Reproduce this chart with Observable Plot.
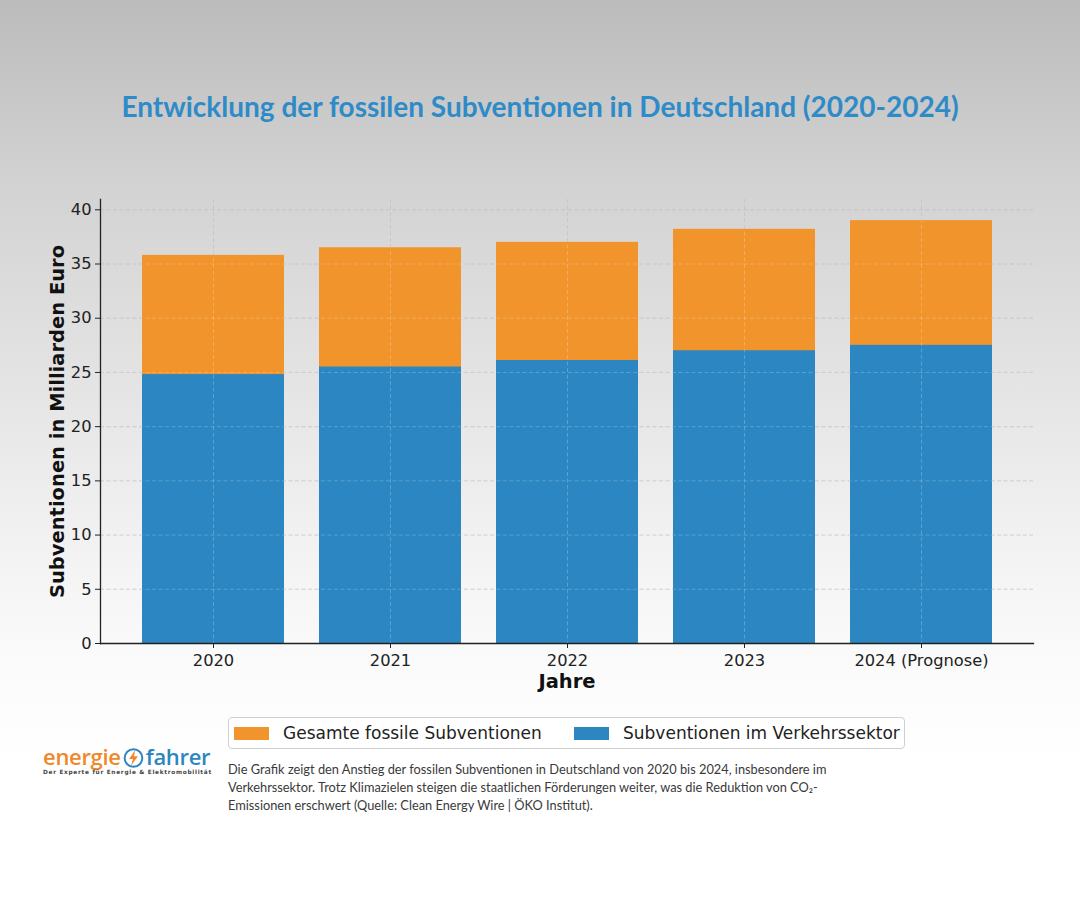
<!DOCTYPE html>
<html>
<head>
<meta charset="utf-8">
<script src="https://cdn.jsdelivr.net/npm/d3@7"></script>
<script src="https://cdn.jsdelivr.net/npm/@observablehq/plot@0.6"></script>
<style>
  html, body { margin: 0; padding: 0; }
  body { width: 1080px; height: 900px; position: relative; overflow: hidden;
    background: linear-gradient(to bottom, #bcbcbc 0%, #d2d2d2 20%, #e2e2e2 40%, #eeeeee 55%, #fafafa 72%, #ffffff 85%); }
  #title { position: absolute; top: 89px; left: 0; width: 1080px; text-align: center;
    font-family: Lato, sans-serif; font-weight: bold; font-size: 28px; color: #2f8bc8; }
  #chart { position: absolute; top: 0; left: 0; }
  #legend { position: absolute; left: 228px; top: 717px; width: 675px; height: 30px;
    border: 1px solid #d0d0d0; border-radius: 4px; background: rgba(255,255,255,0.8);
    font-family: "DejaVu Sans", sans-serif; font-size: 17px; color: #222; }
  .li { position: absolute; top: 0; height: 30px; line-height: 30px; white-space: nowrap; }
  .sw { display: inline-block; width: 35px; height: 13px; vertical-align: -1px; margin-right: 14px; }
  #caption { position: absolute; left: 228px; top: 760px; font-family: Lato, sans-serif;
    font-size: 12.8px; line-height: 18px; color: #3a3a3a; white-space: nowrap; }
  #logo { position: absolute; left: 43px; top: 744px; white-space: nowrap; }
  #logo .name { font-family: "Open Sans", sans-serif; font-weight: 600; font-size: 22px; letter-spacing: -0.3px; line-height: 25px; }
  #logo .sub { font-family: "DejaVu Sans", sans-serif; font-weight: bold; font-size: 5.8px; letter-spacing: 0.7px; color: #444; margin-top: 0px; }
</style>
</head>
<body>
<div id="title">Entwicklung der fossilen Subventionen in Deutschland (2020-2024)</div>
<div id="chart"></div>
<div id="legend"></div>
<div id="logo">
  <div class="name"><span style="color:#f0882a">energie</span><svg width="23" height="22" viewBox="0 0 26 24" style="vertical-align:-4px;margin:0 1px"><circle cx="13" cy="12" r="10" fill="none" stroke="#2b86c1" stroke-width="2.2"/><path d="M15 3 L8 13 L12.5 13 L10 21 L18 10 L13.5 10 Z" fill="#f0882a"/></svg><span style="color:#2b86c1">fahrer</span></div>
  <div class="sub">Der Experte für Energie &amp; Elektromobilität</div>
</div>
<div id="caption">Die Grafik zeigt den Anstieg der fossilen Subventionen in Deutschland von 2020 bis 2024, insbesondere im<br>Verkehrssektor. Trotz Klimazielen steigen die staatlichen Förderungen weiter, was die Reduktion von CO₂-<br>Emissionen erschwert (Quelle: Clean Energy Wire | ÖKO Institut).</div>
<script>
const years = ["2020", "2021", "2022", "2023", "2024 (Prognose)"];
const totalSubsidies = [35.8, 36.5, 37.0, 38.2, 39.0];
const transportSubsidies = [24.8, 25.5, 26.1, 27.0, 27.5];
const seriesNames = ["Gesamte fossile Subventionen", "Subventionen im Verkehrssektor"];
const seriesColors = ["#f0942b", "#2b86c1"];
const yTicks = [0, 5, 10, 15, 20, 25, 30, 35, 40];

const rows = years.map((y, i) => ({year: y, total: totalSubsidies[i], transport: transportSubsidies[i]}));

const plot = Plot.plot({
  width: 1080,
  height: 700,
  marginTop: 199,
  marginBottom: 57,
  marginLeft: 100,
  marginRight: 47,
  style: {background: "transparent", fontFamily: "DejaVu Sans, sans-serif", fontSize: "16px", color: "#222"},
  x: {domain: years, paddingInner: 0.2, paddingOuter: 0.235, label: null},
  y: {domain: [0, 40.95], label: null},
  marks: [
    Plot.gridY(yTicks, {stroke: "#9a9a9a", strokeOpacity: 0.55, strokeDasharray: "4,2.5", strokeWidth: 0.9}),
    Plot.gridX({stroke: "#9a9a9a", strokeOpacity: 0.55, strokeDasharray: "4,2.5", strokeWidth: 0.9}),
    Plot.barY(rows, {x: "year", y: "total", fill: seriesColors[0], inset: 0}),
    Plot.barY(rows, {x: "year", y: "transport", fill: seriesColors[1], inset: 0}),
    Plot.gridY(yTicks, {stroke: "#ffffff", strokeOpacity: 0.25, strokeDasharray: "4,2.5", strokeWidth: 0.9}),
    Plot.gridX({stroke: "#ffffff", strokeOpacity: 0.25, strokeDasharray: "4,2.5", strokeWidth: 0.9}),
    Plot.axisY(yTicks, {tickSize: 5, tickPadding: 4, stroke: "#222", fontSize: 16.3,
      label: "Subventionen in Milliarden Euro", labelAnchor: "center", labelArrow: "none", labelOffset: 50}),
    Plot.axisX({tickSize: 5, tickPadding: 6, stroke: "#222", fontSize: 16.3,
      label: "Jahre", labelAnchor: "center", labelArrow: "none", labelOffset: 44}),
    Plot.frame({anchor: "left", stroke: "#222", strokeWidth: 1.3}),
    Plot.frame({anchor: "bottom", stroke: "#222", strokeWidth: 1.3})
  ]
});
// style axis titles bold (not the tick labels)
plot.querySelectorAll("[aria-label='y-axis label'], [aria-label='x-axis label']").forEach(g => {
  g.querySelectorAll("text").forEach(t => {
    t.style.fontWeight = "bold"; t.style.fontSize = "19.5px"; t.setAttribute("fill", "#111");
  });
  if (g.tagName === "text") { g.style.fontWeight = "bold"; g.style.fontSize = "19.5px"; g.setAttribute("fill", "#111"); }
});
document.getElementById("chart").appendChild(plot);

const legend = document.getElementById("legend");
const lx = [5, 345];
seriesNames.forEach((n, i) => {
  const d = document.createElement("div");
  d.className = "li";
  d.style.left = lx[i] + "px";
  d.innerHTML = `<span class="sw" style="background:${seriesColors[i]}"></span>${n}`;
  legend.appendChild(d);
});
</script>
</body>
</html>
